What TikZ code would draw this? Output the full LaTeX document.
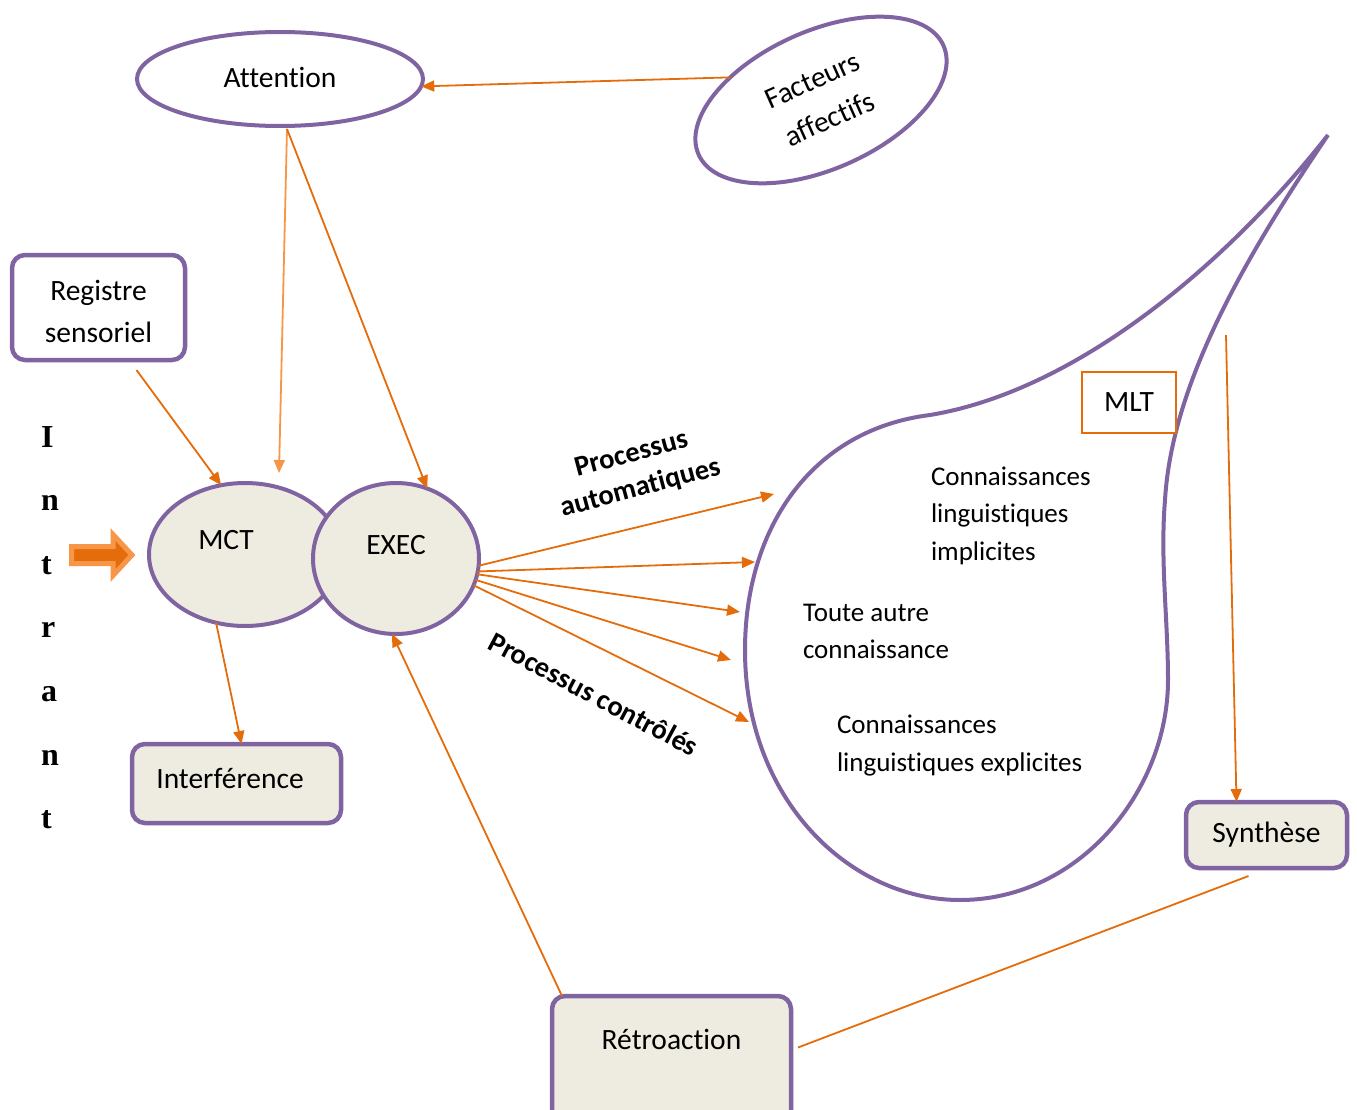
\documentclass[tikz,border=0pt]{standalone}
\usepackage{fontspec}
\setmainfont{Carlito}[Ligatures=NoCommon]
\newfontfamily\serifb{Liberation Serif}
\usetikzlibrary{arrows.meta,calc,shapes.geometric}
\definecolor{purp}{HTML}{8064A2}
\definecolor{org}{HTML}{E46C0A}
\definecolor{lorg}{HTML}{F79646}
\definecolor{beige}{HTML}{EEECE1}
\begin{document}
\begin{tikzpicture}[x=1pt,y=-1pt,
  every node/.style={font=\fontsize{29.5}{42}\selectfont, inner sep=0pt, outer sep=0pt},
  oval/.style={ellipse, draw=purp, line width=4pt},
  rbox/.style={rectangle, rounded corners=13pt, draw=purp, line width=4.5pt},
  conn/.style={draw=org, line width=1.8pt, -{Triangle[length=13pt,width=11pt]}},
  lconn/.style={draw=lorg, line width=1.8pt, -{Triangle[length=13pt,width=11pt]}},
  letter/.style={anchor=base west, font=\serifb\bfseries\fontsize{32}{32}\selectfont},
  mltline/.style={anchor=base west, font=\fontsize{27}{37}\selectfont},
  proc/.style={font=\bfseries\fontsize{28.5}{35}\selectfont, align=center}]
\useasboundingbox (0,0) rectangle (1357,1110);

% MLT outline
\draw[purp, line width=4pt, line join=round]
  (1328,135) .. controls (1230,260) and (1080,390) .. (930,415)
  .. controls (810,430) and (745,530) .. (745,650)
  .. controls (745,800) and (850,900) .. (960,900)
  .. controls (1080,900) and (1168,790) .. (1168,680)
  .. controls (1168,620) and (1160,560) .. (1165,500)
  .. controls (1172,380) and (1250,250) .. (1328,135);

% ellipses
\node[oval, fill=white, minimum width=286, minimum height=94] (attn) at (280,79) {};
\node (attntxt) at (280,77) {Attention};
\node[oval, fill=white, rotate=24, minimum width=268, minimum height=138, align=center] (fact) at (821,100) {Facteurs\\affectifs};
\node[oval, fill=beige, minimum width=192, minimum height=143] (mct) at (245,554.5) {};
\node[oval, fill=beige, minimum width=166, minimum height=151] (exec) at (396,558.5) {};
\node (mcttxt) at (226,540) {MCT};
\node (exectxt) at (396,545) {EXEC};

% boxes
\node[rbox, fill=white, minimum width=173, minimum height=105] (reg) at (98.5,307.5) {};
\node[align=center] (regtxt) at (98.5,311) {Registre\\sensoriel};
\node[rbox, fill=beige, minimum width=209, minimum height=79] (interf) at (236.5,783.5) {};
\node (interftxt) at (230,778) {Interférence};
\node[rbox, fill=beige, minimum width=161, minimum height=66] (synth) at (1266.5,835) {Synthèse};
\node[rbox, fill=beige, minimum width=239, minimum height=129] (retro) at (671.5,1060.5) {};
\node (retrotxt) at (671.5,1039) {Rétroaction};

% MLT label
\node[draw=org, line width=1.3pt, fill=white, minimum width=94, minimum height=61] (mlt) at (1129,402.5) {MLT};

% MLT contents
\node[mltline] (k1) at (931,485) {Connaissances};
\node[mltline] (k2) at (931,522.5) {linguistiques};
\node[mltline] (k3) at (931,560) {implicites};
\node[mltline] (t1) at (803,621) {Toute autre};
\node[mltline] (t2) at (803,658) {connaissance};
\node[mltline] (x1) at (837,733) {Connaissances};
\node[mltline] (x2) at (837,771) {linguistiques explicites};

% Intrant
\node[letter] (l1) at (41,447) {I};
\node[letter] (l2) at (41,510) {n};
\node[letter] (l3) at (41,574) {t};
\node[letter] (l4) at (41,637) {r};
\node[letter] (l5) at (41,701) {a};
\node[letter] (l6) at (41,765) {n};
\node[letter] (l7) at (41,828) {t};

% block arrow
\draw[fill=org, draw=lorg, line width=5pt, line join=miter]
  (71.5,546.5) -- (113,546.5) -- (113,534.5) -- (132,555) -- (113,575.5) -- (113,563.5) -- (71.5,563.5) -- cycle;

% process labels
\node[proc, rotate=15] (pauto) at (636,472) {Processus\\automatiques};
\node[proc, rotate=-28] (pctrl) at (594,694) {Processus contrôlés};

% coordinates
\coordinate (e1) at (774,494);
\coordinate (e2) at (755,562);
\coordinate (e3) at (740,612);
\coordinate (e4) at (731,660);
\coordinate (e5) at (749,722);
\coordinate (mltout) at (1226,335);

% connectors
\draw[conn] (fact.142) -- (attn.-3);
\draw[conn] ($(reg.south)+(38,10)$) -- (mct.109);
\draw[lconn] ($(attn.south)+(7,3)$) -- ($(mct.north)+(34,-10)$);
\draw[conn] ($(attn.south)+(7,3)$) -- (exec.66);
\draw[conn] (mct.-113) -- ([xshift=5pt]interf.north);
\draw[conn] (exec.-5) -- (e1);
\draw[conn] (exec.-9) -- (e2);
\draw[conn] (exec.-11) -- (e3);
\draw[conn] (exec.-15) -- (e4);
\draw[conn] (exec.-19) -- (e5);
\draw[conn] (mltout) -- ($(synth.north)+(-30,0)$);
\draw[draw=org, line width=1.8pt] ($(synth.south)+(-18,8)$) -- ($(retro.east)+(7,-13)$);
\draw[conn] ($(retro.north west)+(10,0)$) -- (exec.-93);
\end{tikzpicture}
\end{document}
